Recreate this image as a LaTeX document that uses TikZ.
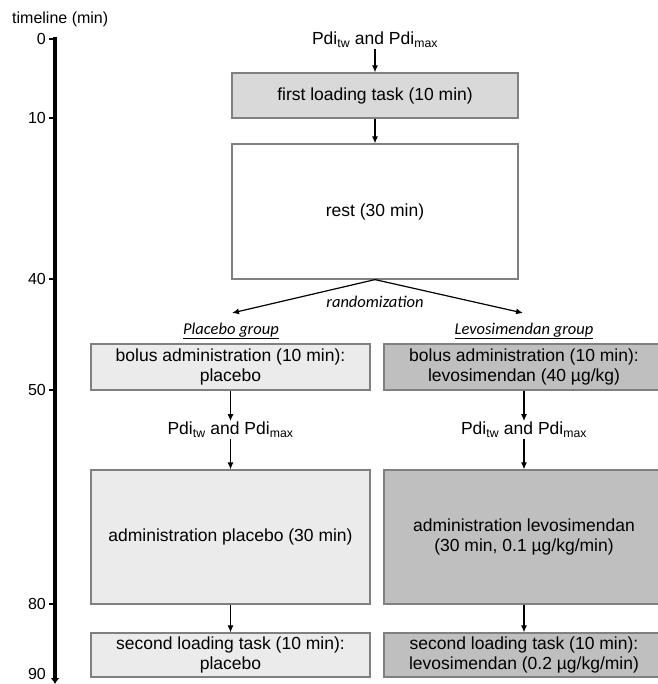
\documentclass[tikz,border=0pt]{standalone}
\usepackage{fontspec}
\setmainfont{Liberation Sans}
\newfontfamily\calib{Carlito}
\usepackage{tikz}
\usetikzlibrary{arrows.meta}
\definecolor{loadgray}{rgb}{0.85, 0.85, 0.85}
\definecolor{placgray}{rgb}{0.92, 0.92, 0.92}
\definecolor{levogray}{rgb}{0.75, 0.75, 0.75}
\definecolor{edgegray}{rgb}{0.5, 0.5, 0.5}
\tikzset{
  stagebox/.style={draw=edgegray, line width=1.2pt, minimum height=#1, align=center, inner sep=2pt},
  leftcol/.style={minimum width=279pt, fill=placgray},
  rightcol/.style={minimum width=280pt, fill=levogray},
  flow/.style={-{Latex[length=7pt,width=6pt]}, line width=1.2pt},
  grouplabel/.style={font=\calib\itshape\fontsize{16.5}{18}\selectfont},
  measure/.style={inner sep=1pt}
}
\newcommand{\pdi}{Pdi\textsubscript{tw} and Pdi\textsubscript{max}}
\begin{document}
\begin{tikzpicture}[x=1pt, y=-1pt, font=\fontsize{17.5}{20.5}\selectfont]
\useasboundingbox (0,0) rectangle (657,684);
%timeline on the left
\node (tltitle) [anchor=west, font=\fontsize{16}{18}\selectfont, inner sep=0pt] at (12,19) {timeline (min)};
\coordinate (tltop) at (55,37);
\coordinate (tlend) at (55,684);
\draw [line width=4.5pt, -{Latex[length=6pt,width=9pt]}] (tltop) -- (tlend);
\foreach \t/\y in {0/39,10/118,40/279,50/390,80/604}{
  \draw [line width=2pt] (49,\y) -- (55,\y);
  \node (tick\t) [anchor=east, font=\fontsize{16}{18}\selectfont, inner sep=0pt] at (46,\y) {\t};
}
\node (tick90) [anchor=south east, font=\fontsize{16}{18}\selectfont, inner sep=0pt] at (46,680) {90};
%common part
\node (pditop) [measure] at (375,40) {\pdi};
\node (first) [stagebox=45pt, minimum width=286pt, fill=loadgray] at (375,95.5) {first loading task (10 min)};
\node (rest) [stagebox=135pt, minimum width=286pt, fill=white] at (375,211.5) {rest (30 min)};
\draw [flow] (pditop) -- (first);
\draw [flow] (first) -- (rest);
%randomization
\node (rand) [grouplabel] at (375,302) {randomization};
\coordinate (randleft) at (232,313);
\coordinate (randright) at (523,313);
\draw [flow] (rest.south) -- (randleft);
\draw [flow] (rest.south) -- (randright);
\node (placgroup) [grouplabel] at (231,331) {\underline{Placebo group}};
\node (levogroup) [grouplabel] at (524,331) {\underline{Levosimendan group}};
%placebo group
\node (placbolus) [stagebox=46pt, leftcol] at (230.5,367) {bolus administration (10 min):\\placebo};
\node (placpdi) [measure] at (230.5,430) {\pdi};
\node (placadmin) [stagebox=134pt, leftcol] at (230.5,537) {administration placebo (30 min)};
\node (placsecond) [stagebox=44pt, leftcol] at (230.5,655) {second loading task (10 min):\\placebo};
\draw [flow] (placbolus) -- (placpdi);
\draw [flow] (placpdi) -- (placadmin);
\draw [flow] (placadmin) -- (placsecond);
%levosimendan group
\node (levobolus) [stagebox=46pt, rightcol] at (524,367) {bolus administration (10 min):\\levosimendan (40 µg/kg)};
\node (levopdi) [measure] at (524,430) {\pdi};
\node (levoadmin) [stagebox=134pt, rightcol] at (524,537) {administration levosimendan\\(30 min, 0.1 µg/kg/min)};
\node (levosecond) [stagebox=44pt, rightcol] at (524,655) {second loading task (10 min):\\levosimendan (0.2 µg/kg/min)};
\draw [flow] (levobolus) -- (levopdi);
\draw [flow] (levopdi) -- (levoadmin);
\draw [flow] (levoadmin) -- (levosecond);
\end{tikzpicture}
\end{document}
